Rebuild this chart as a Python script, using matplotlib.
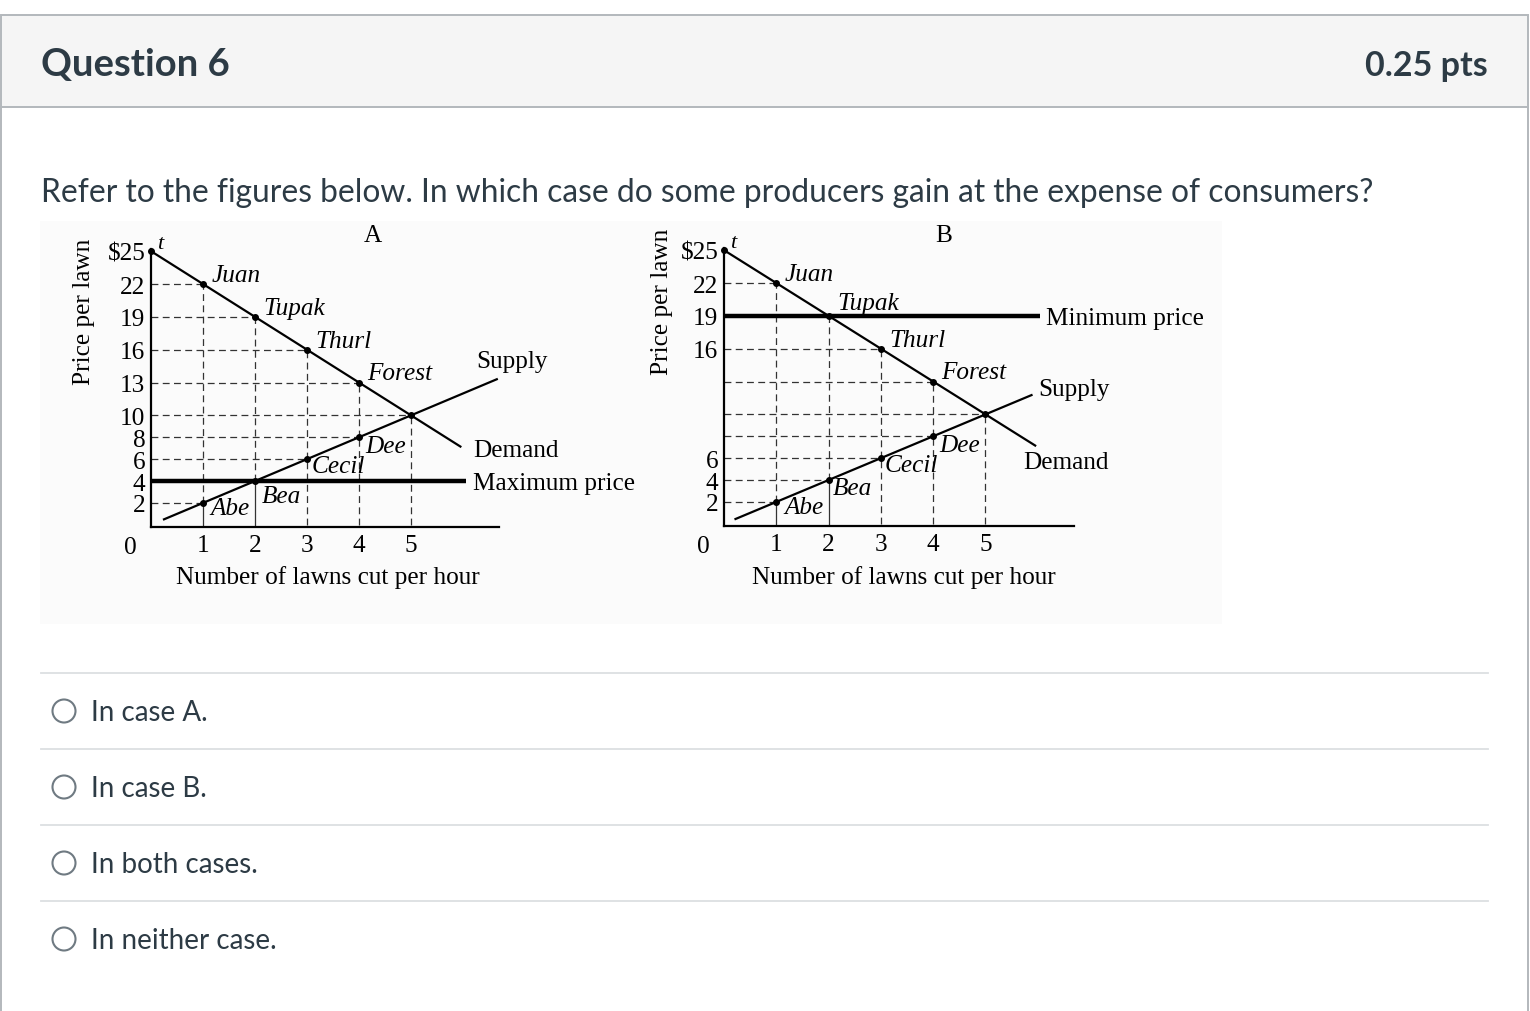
import matplotlib.pyplot as plt
from matplotlib.patches import Rectangle, Circle

plt.rcParams['font.family'] = ['Liberation Serif', 'DejaVu Serif']

W, H = 1530, 1012

# chart data (both panels share buyers and sellers)
lawns = [1, 2, 3, 4]
buyers = ["Juan", "Tupak", "Thurl", "Forest"]
buyer_prices = [22, 19, 16, 13]
sellers = ["Abe", "Bea", "Cecil", "Dee"]
seller_costs = [2, 4, 6, 8]
demand_q = [0, 5.95]
demand_p = [25, 7.15]
supply_a_q = [0.25, 6.65]
supply_a_p = [0.5, 13.3]
supply_b_q = [0.22, 5.88]
supply_b_p = [0.44, 11.76]
eq_q, eq_p = 5, 10
max_price = 4
min_price = 19
control_end = 6.05
x_ticks = [1, 2, 3, 4, 5]
y_ticks_a = [25, 22, 19, 16, 13, 10, 8, 6, 4, 2]
y_ticks_b = [25, 22, 19, 16, 6, 4, 2]

question = "Refer to the figures below. In which case do some producers gain at the expense of consumers?"
answers = ["In case A.", "In case B.", "In both cases.", "In neither case."]

TXT = '#2d3b45'
CHART_FS = 18.2

fig = plt.figure(figsize=(W / 100, H / 100), dpi=100)

# page in pixel coordinates
page = fig.add_axes([0, 0, 1, 1])
page.set_xlim(0, W)
page.set_ylim(H, 0)
page.axis('off')

page.add_patch(Rectangle((1, 16), W - 3, 92, facecolor='#f5f5f5', edgecolor='#b3b8bc', lw=1.4))
page.plot([1, 1], [108, H], color='#b3b8bc', lw=1.4)
page.plot([W - 2, W - 2], [108, H], color='#b3b8bc', lw=1.4)
page.text(41, 76, "Question 6", family='Lato', fontweight='bold', fontsize=27.5, color=TXT, va='baseline')
page.text(1488, 76, "0.25 pts", family='Lato', fontweight='bold', fontsize=24.5, color=TXT, va='baseline', ha='right')
page.text(41, 202, question, family='Lato', fontsize=22.9, color=TXT, va='baseline')

# faint background of the embedded figure image
page.add_patch(Rectangle((40, 222), 1182, 403, facecolor='#fbfbfb', edgecolor='none'))

for i, ans in enumerate(answers):
    y = 674 + 76 * i
    page.plot([41, 1488], [y, y], color='#dcdfe2', lw=1.3)
    page.add_patch(Circle((64, y + 38), 11.5, facecolor='white', edgecolor='#6f7a82', lw=1.5))
    page.text(91, y + 47, ans, family='Lato', fontsize=20, color=TXT, va='baseline')

# chart titles and axis labels
page.text(373, 236, "A", fontsize=CHART_FS, ha='center', va='center')
page.text(944, 236, "B", fontsize=CHART_FS, ha='center', va='center')
page.text(84, 312, "Price per lawn", fontsize=CHART_FS, rotation=90, ha='center', va='center')
page.text(662, 302, "Price per lawn", fontsize=CHART_FS, rotation=90, ha='center', va='center')
page.text(328, 578, "Number of lawns cut per hour", fontsize=CHART_FS, ha='center', va='center')
page.text(904, 578, "Number of lawns cut per hour", fontsize=CHART_FS, ha='center', va='center')


def px_rect(left, top, right, bottom):
    return [left / W, 1 - bottom / H, (right - left) / W, (bottom - top) / H]


dash = dict(color='#333333', lw=0.9, dashes=(5.5, 3.5))
thin = dict(color='#333333', lw=0.9)


def draw_panel(ax, supply_q, supply_p, control, yticks, buyer_offsets, seller_offsets):
    ax.set_xlim(0, 6.7)
    ax.set_ylim(-0.2, 25.2)
    ax.patch.set_visible(False)
    for s in ['top', 'right']:
        ax.spines[s].set_visible(False)
    for s in ['left', 'bottom']:
        ax.spines[s].set_linewidth(1.6)
    ax.set_xticks(x_ticks)
    ax.set_yticks(yticks)
    ax.set_yticklabels(["$" + str(v) if v == 25 else str(v) for v in yticks])
    ax.tick_params(length=0, labelsize=CHART_FS)
    ax.tick_params(axis='y', pad=4)
    ax.tick_params(axis='x', pad=5)
    ax.text(-0.4, -2.0, "0", fontsize=CHART_FS, ha='center', va='center', clip_on=False)
    ax.text(0.12, 25.7, "t", fontsize=CHART_FS - 2, style='italic', va='center', clip_on=False)

    # guide lines
    for q, p, c in zip(lawns, buyer_prices, seller_costs):
        ax.plot([0, q], [p, p], **dash)
        ax.plot([0, q], [c, c], **dash)
        ax.plot([q, q], [c, p], **dash)
        if q < 3:
            ax.plot([q, q], [0, c], **thin)
        else:
            ax.plot([q, q], [0, c], **dash)
    ax.plot([0, eq_q], [eq_p, eq_p], **dash)
    ax.plot([eq_q, eq_q], [0, eq_p], **dash)

    # curves
    ax.plot(demand_q, demand_p, color='black', lw=1.6, clip_on=False)
    ax.plot(supply_q, supply_p, color='black', lw=1.6, clip_on=False)
    ax.plot([0, control_end], [control, control], color='black', lw=3.2, clip_on=False, solid_capstyle='butt')

    ax.plot(lawns + [0, eq_q], buyer_prices + [25, eq_p], 'o', color='black', ms=4, clip_on=False)
    ax.plot(lawns, seller_costs, 'o', color='black', ms=4)

    for q, p, name, off in zip(lawns, buyer_prices, buyers, buyer_offsets):
        ax.annotate(name, (q, p), xytext=off, textcoords='offset points',
                    fontsize=CHART_FS, style='italic', ha='left', va='center')
    for q, c, name, off in zip(lawns, seller_costs, sellers, seller_offsets):
        ax.annotate(name, (q, c), xytext=off, textcoords='offset points',
                    fontsize=CHART_FS, style='italic', ha='left', va='center')


ax_a = fig.add_axes(px_rect(151, 250, 499.4, 528))
draw_panel(ax_a, supply_a_q, supply_a_p, max_price, y_ticks_a,
           [(6, 6.5)] * 4,
           [(5.5, -3.5), (5, -10.5), (3, -5), (4.5, -6.5)])
ax_a.text(6.26, 15.0, "Supply", fontsize=CHART_FS, va='center', clip_on=False)
ax_a.text(6.19, 6.85, "Demand", fontsize=CHART_FS, va='center', clip_on=False)
ax_a.text(6.19, 3.85, "Maximum price", fontsize=CHART_FS, va='center', clip_on=False)

ax_b = fig.add_axes(px_rect(724, 249, 1074.4, 527))
draw_panel(ax_b, supply_b_q, supply_b_p, min_price, y_ticks_b,
           [(6, 6.5), (6, 9.5), (6, 6.5), (6, 6.5)],
           [(5.5, -4), (3, -5.5), (3, -5), (4.5, -6.5)])
ax_b.text(6.15, 18.8, "Minimum price", fontsize=CHART_FS, va='center', clip_on=False)
ax_b.text(6.0, 12.3, "Supply", fontsize=CHART_FS, va='center', clip_on=False)
ax_b.text(5.72, 5.65, "Demand", fontsize=CHART_FS, va='center', clip_on=False)

fig.savefig("out.png", dpi=100)
